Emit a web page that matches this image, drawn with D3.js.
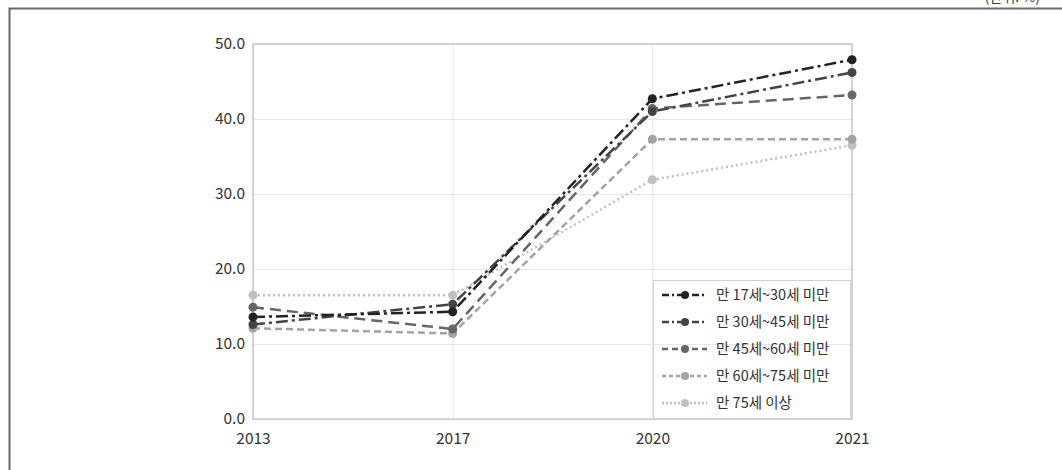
<!DOCTYPE html>
<html><head><meta charset="utf-8">
<script src="https://cdn.jsdelivr.net/npm/d3@7"></script>
<style>html,body{margin:0;padding:0;background:#fff;}svg{display:block;}</style>
</head><body>
<svg id="c" width="1062" height="470"></svg>
<script>
const years = ["2013", "2017", "2020", "2021"];
const seriesNames = ["만 17세~30세 미만", "만 30세~45세 미만", "만 45세~60세 미만", "만 60세~75세 미만", "만 75세 이상"];
const s17to30 = [13.6, 14.3, 42.7, 47.9];
const s30to45 = [12.6, 15.3, 41.0, 46.2];
const s45to60 = [14.9, 12.0, 41.4, 43.2];
const s60to75 = [12.1, 11.4, 37.3, 37.3];
const s75plus = [16.5, 16.5, 31.9, 36.5];
const yTicks = [0, 10, 20, 30, 40, 50];
const unitLabel = "(단위: %)";

const seriesValues = [s17to30, s30to45, s45to60, s60to75, s75plus];
const colors = ["#222222", "#444444", "#666666", "#a3a3a3", "#c0c0c0"];
const dashes = ["12,4,3,4", "12,4,3,4", "11,6", "7,4", "2,3"];
const legendDashes = ["7,3,2,3", "7,3,2,3", "6,4", "4,3", "2,2"];

const svg = d3.select("#c");
const font = "'Noto Sans CJK KR', 'Noto Sans', sans-serif";

// outer frame
svg.append("path").attr("d", "M9.5,470 V8.5 H1062").attr("fill", "none").attr("stroke", "#6a6a6a").attr("stroke-width", 2);
svg.append("text").attr("x", 1040).attr("y", 2).attr("text-anchor", "end")
  .attr("font-family", font).attr("font-size", 14).attr("fill", "#444").text(unitLabel);

const x = d3.scalePoint().domain(years).range([253, 852]);
const y = d3.scaleLinear().domain([0, 50]).range([419, 44]);

// grid
const g = svg.append("g");
g.selectAll(".hg").data(yTicks).join("line")
  .attr("x1", 253).attr("x2", 852).attr("y1", d => y(d) + 0.5).attr("y2", d => y(d) + 0.5)
  .attr("stroke", "#e6e6e6").attr("stroke-width", 1);
g.selectAll(".vg").data(years).join("line")
  .attr("x1", d => x(d) + 0.5).attr("x2", d => x(d) + 0.5).attr("y1", 44).attr("y2", 419)
  .attr("stroke", "#e6e6e6").attr("stroke-width", 1);
// plot border
g.append("rect").attr("x", 253).attr("y", 44).attr("width", 852 - 253).attr("height", 419 - 44)
  .attr("fill", "none").attr("stroke", "#c8c8c8").attr("stroke-width", 1.5);

// axes
const yAxis = d3.axisLeft(y).tickValues(yTicks).tickFormat(d3.format(".1f")).tickSize(0).tickPadding(8);
const ya = svg.append("g").attr("transform", "translate(253,0)").call(yAxis);
ya.select(".domain").remove();
ya.selectAll("text").attr("font-family", font).attr("font-size", 15.5).attr("fill", "#333");

const xAxis = d3.axisBottom(x).tickSize(0).tickPadding(14);
const xa = svg.append("g").attr("transform", "translate(0,419)").call(xAxis);
xa.select(".domain").remove();
xa.selectAll("text").attr("font-family", font).attr("font-size", 15.5).attr("fill", "#333");

// legend box
const lg = svg.append("g");
lg.append("rect").attr("x", 653.5).attr("y", 280.5).attr("width", 197).attr("height", 138)
  .attr("fill", "none").attr("stroke", "#cfcfcf").attr("stroke-width", 1);

// lines
const line = d3.line().x((d, i) => x(years[i])).y(d => y(d));
seriesValues.slice().reverse().forEach((vals, ri) => {
  const i = seriesValues.length - 1 - ri;
  svg.append("path").datum(vals).attr("d", line).attr("fill", "none")
    .attr("stroke", colors[i]).attr("stroke-width", 2.5).attr("stroke-dasharray", dashes[i]);
  svg.selectAll(null).data(vals).join("circle")
    .attr("cx", (d, j) => x(years[j])).attr("cy", d => y(d)).attr("r", 4.5).attr("fill", colors[i]);
});

// legend entries
seriesNames.forEach((name, i) => {
  const ly = 295 + i * 27;
  lg.append("line").attr("x1", 662).attr("x2", 707).attr("y1", ly).attr("y2", ly)
    .attr("stroke", colors[i]).attr("stroke-width", 2.5).attr("stroke-dasharray", legendDashes[i]);
  lg.append("circle").attr("cx", 685).attr("cy", ly).attr("r", 4).attr("fill", colors[i]);
  lg.append("text").attr("x", 716).attr("y", ly).attr("dy", "0.35em")
    .attr("font-family", font).attr("font-size", 14.5).attr("fill", "#333").text(name);
});
</script>
</body></html>
